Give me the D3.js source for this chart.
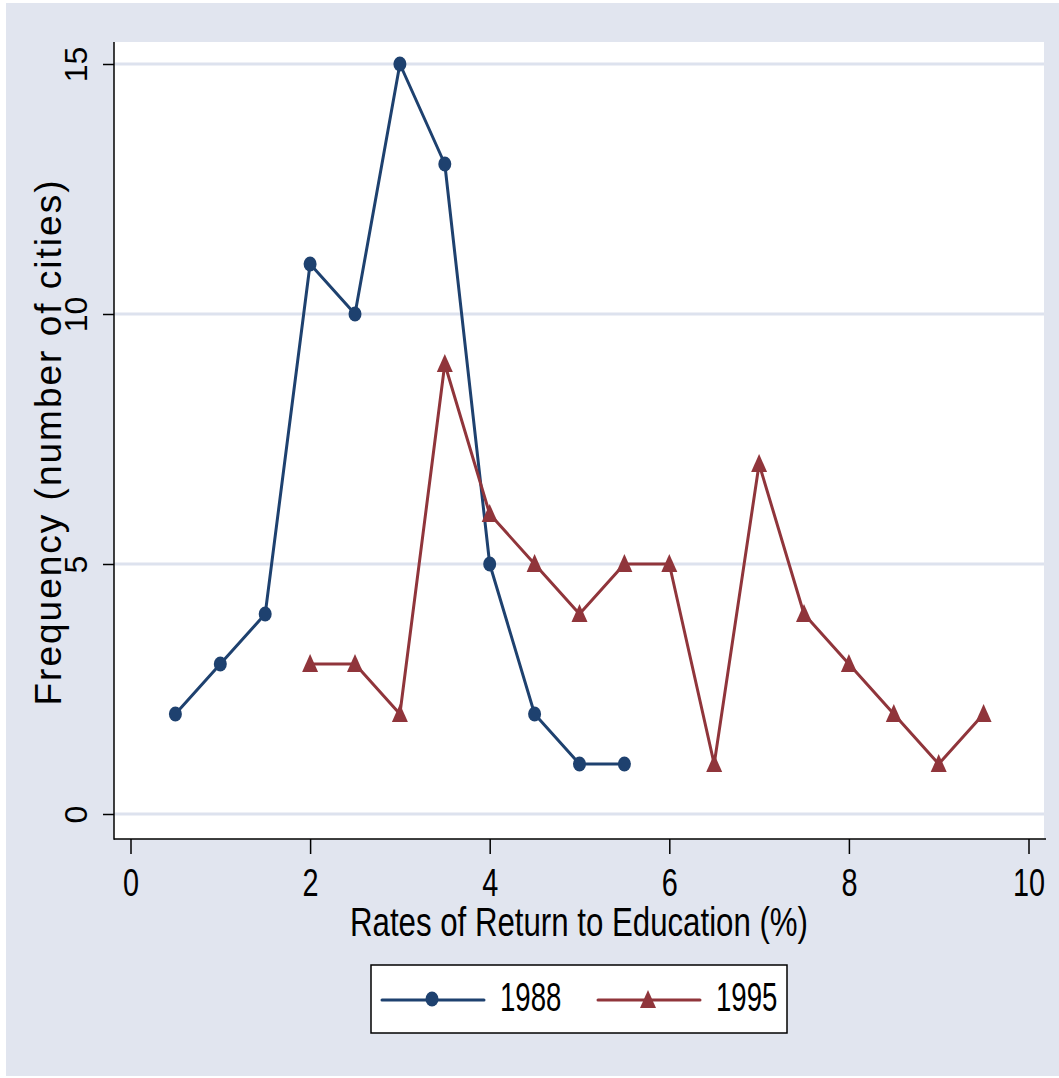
<!DOCTYPE html>
<html><head><meta charset="utf-8">
<script src="https://cdn.jsdelivr.net/npm/d3@7"></script>
<style>html,body{margin:0;padding:0;background:#fff;}svg{display:block;}text{font-family:"Liberation Sans",Arial,sans-serif;fill:#000;}</style>
</head><body>
<svg id="chart" width="1059" height="1078"></svg>
<script>
const xValues1988 = [0.5, 1, 1.5, 2, 2.5, 3, 3.5, 4, 4.5, 5, 5.5];
const freq1988    = [2, 3, 4, 11, 10, 15, 13, 5, 2, 1, 1];
const xValues1995 = [2, 2.5, 3, 3.5, 4, 4.5, 5, 5.5, 6, 6.5, 7, 7.5, 8, 8.5, 9, 9.5];
const freq1995    = [3, 3, 2, 9, 6, 5, 4, 5, 5, 1, 7, 4, 3, 2, 1, 2];
const xTicks = [0, 2, 4, 6, 8, 10];
const yTicks = [0, 5, 10, 15];
const seriesNames = ["1988", "1995"];
const xTitle = "Rates of Return to Education (%)";
const yTitle = "Frequency (number of cities)";

const NAVY = "#1e416f", MAROON = "#90353b", BG = "#e1e5ef", GRID = "#dde2ee";
const svg = d3.select("#chart");
const SX = 0.74; // horizontal text compression

svg.append("rect").attr("x", 6).attr("y", 3).attr("width", 1053).attr("height", 1073).attr("fill", BG);

const plot = {left: 114, right: 1044, top: 42, bottom: 839};
svg.append("rect").attr("x", plot.left).attr("y", plot.top)
  .attr("width", plot.right - plot.left).attr("height", plot.bottom - plot.top).attr("fill", "#fff");

const x = d3.scaleLinear().domain([0, 10]).range([130.5, 1028.5]);
const y = d3.scaleLinear().domain([0, 15]).range([814, 64]);

// gridlines
svg.append("g").selectAll("line").data(yTicks).join("line")
  .attr("x1", plot.left).attr("x2", plot.right)
  .attr("y1", d => y(d)).attr("y2", d => y(d))
  .attr("stroke", GRID).attr("stroke-width", 3);

// x axis
const gx = svg.append("g").attr("transform", `translate(0,${plot.bottom})`)
  .call(d3.axisBottom(x).tickValues(xTicks).tickSize(15).tickSizeOuter(0).tickFormat(d3.format("d")));
gx.select(".domain").remove();
gx.selectAll(".tick line").attr("stroke", "#000").attr("stroke-width", 1.5);
gx.selectAll(".tick text").remove();
gx.selectAll(".tick").append("text")
  .attr("transform", `translate(0,57) scale(${SX},1)`)
  .attr("text-anchor", "middle").style("font-size", "39px").text(d => d);

// y axis
const gy = svg.append("g").attr("transform", `translate(${plot.left},0)`)
  .call(d3.axisLeft(y).tickValues(yTicks).tickSize(11).tickSizeOuter(0).tickFormat(d3.format("d")));
gy.select(".domain").remove();
gy.selectAll(".tick line").attr("stroke", "#000").attr("stroke-width", 1.5);
gy.selectAll(".tick text").remove();
gy.selectAll(".tick").append("text")
  .attr("transform", "translate(-27,0) rotate(-90)")
  .attr("text-anchor", "middle").style("font-size", "32px").text(d => d);

// axis lines
svg.append("line").attr("x1", plot.left).attr("x2", plot.left).attr("y1", plot.top).attr("y2", plot.bottom + 0.75)
  .attr("stroke", "#000").attr("stroke-width", 1.5);
svg.append("line").attr("x1", plot.left).attr("x2", 1046).attr("y1", plot.bottom).attr("y2", plot.bottom)
  .attr("stroke", "#000").attr("stroke-width", 1.5);

// titles
svg.append("text").attr("x", 579).attr("y", 936).attr("text-anchor", "middle")
  .attr("textLength", 458).attr("lengthAdjust", "spacingAndGlyphs")
  .style("font-size", "40px").text(xTitle);
svg.append("text").attr("transform", "translate(61,443) rotate(-90)").attr("text-anchor", "middle")
  .attr("textLength", 525).attr("lengthAdjust", "spacing")
  .style("font-size", "37px").text(yTitle);

// series
const data1988 = xValues1988.map((v, i) => ({x: v, y: freq1988[i]}));
const data1995 = xValues1995.map((v, i) => ({x: v, y: freq1995[i]}));
const line = d3.line().x(d => x(d.x)).y(d => y(d.y));
const tri = "M0,-10 L8,8 L-8,8 Z";

svg.append("path").datum(data1988).attr("d", line).attr("fill", "none")
  .attr("stroke", NAVY).attr("stroke-width", 3).attr("stroke-linejoin", "round");
svg.append("path").datum(data1995).attr("d", line).attr("fill", "none")
  .attr("stroke", MAROON).attr("stroke-width", 3).attr("stroke-linejoin", "round");
svg.append("g").selectAll("ellipse").data(data1988).join("ellipse")
  .attr("cx", d => x(d.x)).attr("cy", d => y(d.y)).attr("rx", 6.5).attr("ry", 7.5).attr("fill", NAVY);
svg.append("g").selectAll("path").data(data1995).join("path")
  .attr("transform", d => `translate(${x(d.x)},${y(d.y)})`).attr("d", tri).attr("fill", MAROON);

// legend
const lg = svg.append("g");
lg.append("rect").attr("x", 371).attr("y", 965).attr("width", 416).attr("height", 68)
  .attr("fill", "#fff").attr("stroke", "#000").attr("stroke-width", 1.5);
const legendItems = [
  {name: seriesNames[0], color: NAVY, x0: 382, shape: "circle"},
  {name: seriesNames[1], color: MAROON, x0: 598, shape: "tri"}
];
legendItems.forEach(it => {
  lg.append("line").attr("x1", it.x0).attr("x2", it.x0 + 102).attr("y1", 1000).attr("y2", 1000)
    .attr("stroke", it.color).attr("stroke-width", 3).attr("stroke-linecap", "round");
  if (it.shape === "circle") {
    lg.append("ellipse").attr("cx", it.x0 + 50).attr("cy", 999).attr("rx", 6.5).attr("ry", 7.5).attr("fill", it.color);
  } else {
    lg.append("path").attr("transform", `translate(${it.x0 + 50},1000)`).attr("d", tri).attr("fill", it.color);
  }
  lg.append("text").attr("transform", `translate(${it.x0 + 118},1011) scale(0.69,1)`)
    .style("font-size", "40px").text(it.name);
});
</script>
</body></html>
